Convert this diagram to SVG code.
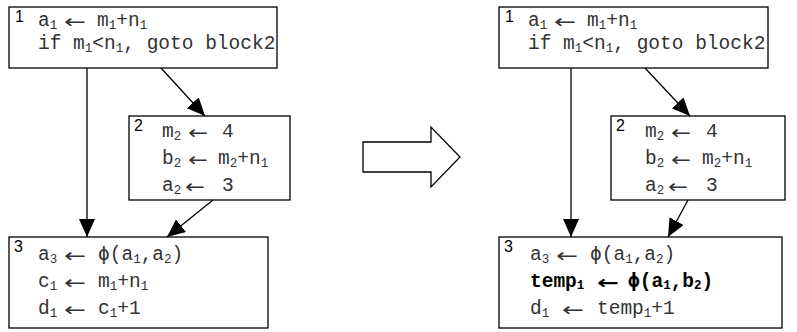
<svg xmlns="http://www.w3.org/2000/svg" width="797" height="332" viewBox="0 0 797 332">
  <style>
    .box { fill: #fff; stroke: #000; stroke-width: 1.3; }
    .t { font-family: "Liberation Mono", "Courier New", monospace; font-size: 19.5px; fill: #333; }
    .s { font-size: 12.5px; }
    .ar { font-family: "DejaVu Sans", sans-serif; font-size: 19px; fill: #333; }
    .ph { font-family: "DejaVu Sans Mono", monospace; }
    .lab { font-family: "Liberation Sans", Arial, sans-serif; font-size: 16px; fill: #000; }
    .b { font-weight: bold; fill: #000; }
    .conn line { stroke: #000; stroke-width: 1.3; marker-end: url(#ah); }
    .big { fill: #fff; stroke: #000; stroke-width: 1.3; }
  </style>
  <defs>
    <marker id="ah" markerWidth="18" markerHeight="16" refX="18" refY="8" orient="auto" markerUnits="userSpaceOnUse">
      <path d="M0,0 L18,8 L0,16 z" fill="#000"/>
    </marker>
  </defs>
  <rect width="797" height="332" fill="#fff"/>

  <!-- original program -->
  <g id="l-block1">
    <rect class="box" x="9" y="7" width="268" height="61"/>
    <text class="lab" x="15" y="22">1</text>
    <text class="t" y="26"><tspan x="38">a</tspan><tspan class="s" dy="3">1</tspan><tspan x="97" dy="-3">m</tspan><tspan class="s" dy="3">1</tspan><tspan dy="-3">+n</tspan><tspan class="s" dy="3">1</tspan></text>
    <text class="ar" x="64" y="28" textLength="22" lengthAdjust="spacingAndGlyphs">←</text>
    <text class="t" y="49"><tspan x="38">if m</tspan><tspan class="s" dy="3">1</tspan><tspan dy="-3">&lt;n</tspan><tspan class="s" dy="3">1</tspan><tspan dy="-3">, goto block2</tspan></text>
  </g>
  <g id="l-block2">
    <rect class="box" x="129" y="116" width="161" height="84"/>
    <text class="lab" x="134" y="131">2</text>
    <text class="t" y="137"><tspan x="162">m</tspan><tspan class="s" dy="3">2</tspan><tspan x="222" dy="-3">4</tspan></text>
    <text class="ar" x="188" y="139" textLength="20" lengthAdjust="spacingAndGlyphs">←</text>
    <text class="t" y="164"><tspan x="162">b</tspan><tspan class="s" dy="3">2</tspan><tspan x="218" dy="-3">m</tspan><tspan class="s" dy="3">2</tspan><tspan dy="-3">+n</tspan><tspan class="s" dy="3">1</tspan></text>
    <text class="ar" x="188" y="166" textLength="20" lengthAdjust="spacingAndGlyphs">←</text>
    <text class="t" y="191"><tspan x="162">a</tspan><tspan class="s" dy="3">2</tspan><tspan x="222" dy="-3">3</tspan></text>
    <text class="ar" x="185" y="193" textLength="20" lengthAdjust="spacingAndGlyphs">←</text>
  </g>
  <g id="l-block3">
    <rect class="box" x="9" y="237" width="259" height="91"/>
    <text class="lab" x="14" y="252">3</text>
    <text class="t" y="260"><tspan x="38">a</tspan><tspan class="s" dy="3">3</tspan><tspan x="98" dy="-3" class="ph">ϕ</tspan><tspan>(a</tspan><tspan class="s" dy="3">1</tspan><tspan dy="-3">,a</tspan><tspan class="s" dy="3">2</tspan><tspan dy="-3">)</tspan></text>
    <text class="ar" x="64" y="262" textLength="22" lengthAdjust="spacingAndGlyphs">←</text>
    <text class="t" y="287"><tspan x="38">c</tspan><tspan class="s" dy="3">1</tspan><tspan x="98" dy="-3">m</tspan><tspan class="s" dy="3">1</tspan><tspan dy="-3">+n</tspan><tspan class="s" dy="3">1</tspan></text>
    <text class="ar" x="64" y="289" textLength="22" lengthAdjust="spacingAndGlyphs">←</text>
    <text class="t" y="314"><tspan x="38">d</tspan><tspan class="s" dy="3">1</tspan><tspan x="98" dy="-3">c</tspan><tspan class="s" dy="3">1</tspan><tspan dy="-3">+1</tspan></text>
    <text class="ar" x="64" y="316" textLength="22" lengthAdjust="spacingAndGlyphs">←</text>
  </g>

  <!-- transformation arrow -->
  <g id="transform">
    <polygon class="big" points="363,142 431,142 431,127 460,157 431,187 431,172 363,172"/>
  </g>

  <!-- transformed program -->
  <g id="r-block1">
    <rect class="box" x="499" y="7" width="269" height="61"/>
    <text class="lab" x="505" y="22">1</text>
    <text class="t" y="26"><tspan x="528">a</tspan><tspan class="s" dy="3">1</tspan><tspan x="587" dy="-3">m</tspan><tspan class="s" dy="3">1</tspan><tspan dy="-3">+n</tspan><tspan class="s" dy="3">1</tspan></text>
    <text class="ar" x="554" y="28" textLength="22" lengthAdjust="spacingAndGlyphs">←</text>
    <text class="t" y="49"><tspan x="528">if m</tspan><tspan class="s" dy="3">1</tspan><tspan dy="-3">&lt;n</tspan><tspan class="s" dy="3">1</tspan><tspan dy="-3">, goto block2</tspan></text>
  </g>
  <g id="r-block2">
    <rect class="box" x="611" y="116" width="174" height="84"/>
    <text class="lab" x="616" y="131">2</text>
    <text class="t" y="137"><tspan x="645">m</tspan><tspan class="s" dy="3">2</tspan><tspan x="706" dy="-3">4</tspan></text>
    <text class="ar" x="671" y="139" textLength="20" lengthAdjust="spacingAndGlyphs">←</text>
    <text class="t" y="164"><tspan x="645">b</tspan><tspan class="s" dy="3">2</tspan><tspan x="702" dy="-3">m</tspan><tspan class="s" dy="3">2</tspan><tspan dy="-3">+n</tspan><tspan class="s" dy="3">1</tspan></text>
    <text class="ar" x="671" y="166" textLength="20" lengthAdjust="spacingAndGlyphs">←</text>
    <text class="t" y="191"><tspan x="645">a</tspan><tspan class="s" dy="3">2</tspan><tspan x="706" dy="-3">3</tspan></text>
    <text class="ar" x="668" y="193" textLength="20" lengthAdjust="spacingAndGlyphs">←</text>
  </g>
  <g id="r-block3">
    <rect class="box" x="499" y="237" width="283" height="91"/>
    <text class="lab" x="504" y="252">3</text>
    <text class="t" y="260"><tspan x="530">a</tspan><tspan class="s" dy="3">3</tspan><tspan x="590" dy="-3" class="ph">ϕ</tspan><tspan>(a</tspan><tspan class="s" dy="3">1</tspan><tspan dy="-3">,a</tspan><tspan class="s" dy="3">2</tspan><tspan dy="-3">)</tspan></text>
    <text class="ar" x="556" y="262" textLength="22" lengthAdjust="spacingAndGlyphs">←</text>
    <text class="t b" y="287"><tspan x="530">temp</tspan><tspan class="s" dy="2">1</tspan><tspan x="628" dy="-2" class="ph">ϕ</tspan><tspan>(a</tspan><tspan class="s" dy="2">1</tspan><tspan dy="-2">,b</tspan><tspan class="s" dy="2">2</tspan><tspan dy="-2">)</tspan></text>
    <text class="ar b" x="597" y="289" textLength="22" lengthAdjust="spacingAndGlyphs">←</text>
    <text class="t" y="314"><tspan x="530">d</tspan><tspan class="s" dy="3">1</tspan><tspan x="597" dy="-3">temp</tspan><tspan class="s" dy="3">1</tspan><tspan dy="-3">+1</tspan></text>
    <text class="ar" x="562" y="316" textLength="22" lengthAdjust="spacingAndGlyphs">←</text>
  </g>

  <g id="connectors" class="conn">
    <line x1="87" y1="68" x2="87" y2="237"/>
    <line x1="161" y1="68" x2="205" y2="116"/>
    <line x1="213" y1="200" x2="167" y2="237"/>
    <line x1="571" y1="68" x2="571" y2="237"/>
    <line x1="645" y1="68" x2="690" y2="116"/>
    <line x1="688" y1="200" x2="668" y2="237"/>
  </g>
</svg>
